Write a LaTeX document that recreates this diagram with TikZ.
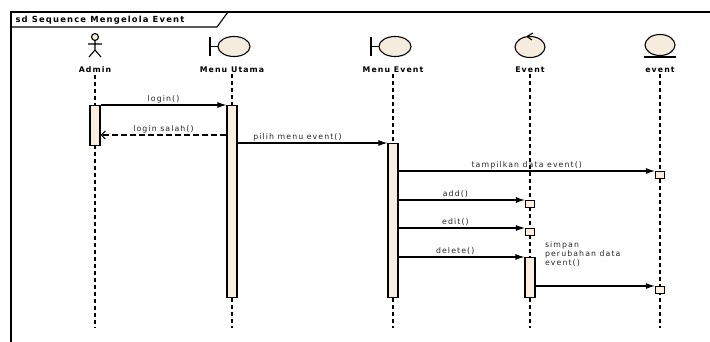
\documentclass[tikz,border=0pt]{standalone}
\usepackage{fontspec}
\setmainfont{DejaVu Sans}[LetterSpace=14]
\usetikzlibrary{arrows.meta}
\definecolor{lifefill}{RGB}{250,238,222}
\definecolor{iconfill}{RGB}{245,236,222}
\begin{document}
\begin{tikzpicture}[
    x=1pt, y=-1pt,
    line width=1.1pt,
    font=\fontsize{7.8}{9}\selectfont,
    lbl/.style={inner sep=1pt, font=\fontsize{7.8}{9}\selectfont\bfseries},
    act/.style={draw, fill=lifefill, minimum width=10pt, inner sep=0pt, anchor=north},
    stub/.style={draw, fill=lifefill, minimum width=9pt, minimum height=7pt, inner sep=0pt, anchor=north},
    lifeline/.style={dash pattern=on 4pt off 3pt},
    icon/.style={draw, fill=iconfill},
    msg/.style={-{Latex[length=9pt,width=6pt]}},
    reply/.style={-{Straight Barb[length=4pt,width=8pt]}, dash pattern=on 6pt off 3pt},
    mlbl/.style={inner sep=1.5pt, text=black!85},
  ]
    \useasboundingbox (0,0) rectangle (710,342);
    % frame
    \draw (11,342) -- (11,12) -- (710,12);
    \draw (11,27) -- (217,27) -- (228,12);
    \node[anchor=west, inner sep=0pt, font=\fontsize{8.4}{9}\selectfont\bfseries] (title) at (15,20) {sd Sequence Mengelola Event};

    % heads
    \draw[fill=iconfill] (95,37) circle (3.5);
    \draw (95,40.5) -- (95,50) (88,44) -- (102,44) (89,57) -- (95,50) -- (101,57);
    \node[lbl] (admin) at (95,70) {Admin};

    \draw (210,37) -- (210,56) (210,46.5) -- (218,46.5);
    \draw[icon] (234,46.5) ellipse (16 and 10);
    \node[lbl] (utamalbl) at (232,70) {Menu Utama};

    \draw (371,37) -- (371,56) (371,46.5) -- (379,46.5);
    \draw[icon] (395,46.5) ellipse (16 and 10);
    \node[lbl] (menulbl) at (393,70) {Menu Event};

    \draw[icon] (530,47) ellipse (15 and 10.5);
    \draw (527,36.5) -- (533,33) (527,36.5) -- (532,40);
    \node[lbl] (ctrllbl) at (530,70) {Event};

    \draw[icon] (660,45) ellipse (15 and 10.5);
    \draw (644,57) -- (676,57);
    \node[lbl] (entlbl) at (660,70) {event};

    % lifelines
    \foreach \n in {admin, utamalbl, menulbl, ctrllbl, entlbl}
      \draw[lifeline] (\n.south) -- (\n.south |- 0,328);

    % activations
    \node[act, minimum height=40pt] (aa) at (95,105) {};
    \node[act, minimum height=192pt] (mu) at (232,105) {};
    \node[act, minimum height=154pt] (me) at (393,143) {};
    \node[act, minimum height=40pt] (ev) at (530,257) {};
    \node[stub] (tpl) at (660,171) {};
    \node[stub] (add) at (530,200) {};
    \node[stub] (edt) at (530,228) {};
    \node[stub] (smp) at (660,286) {};

    % messages
    \draw[msg] (aa.north east) -- node[mlbl, above] {login()} (mu.north west);
    \draw[reply] (mu.west |- 0,135) -- node[mlbl, above] {login salah()} (aa.east |- 0,135);
    \draw[msg] (mu.east |- me.north) -- node[mlbl, above, pos=0.4] {pilih menu event()} (me.north west);
    \draw[msg] (me.east |- tpl.north) -- node[mlbl, above] {tampilkan data event()} (tpl.north west);
    \draw[msg] (me.east |- add.north) -- node[mlbl, above, pos=0.45] {add()} (add.north west);
    \draw[msg] (me.east |- edt.north) -- node[mlbl, above, pos=0.45] {edit()} (edt.north west);
    \draw[msg] (me.east |- ev.north) -- node[mlbl, above, pos=0.45] {delete()} (ev.north west);
    \draw[msg] (ev.east |- smp.north) -- (smp.north west);
    \node[mlbl, anchor=north west, align=left] (smplbl) at (543,240) {simpan\\perubahan data\\event()};
  \end{tikzpicture}
\end{document}
